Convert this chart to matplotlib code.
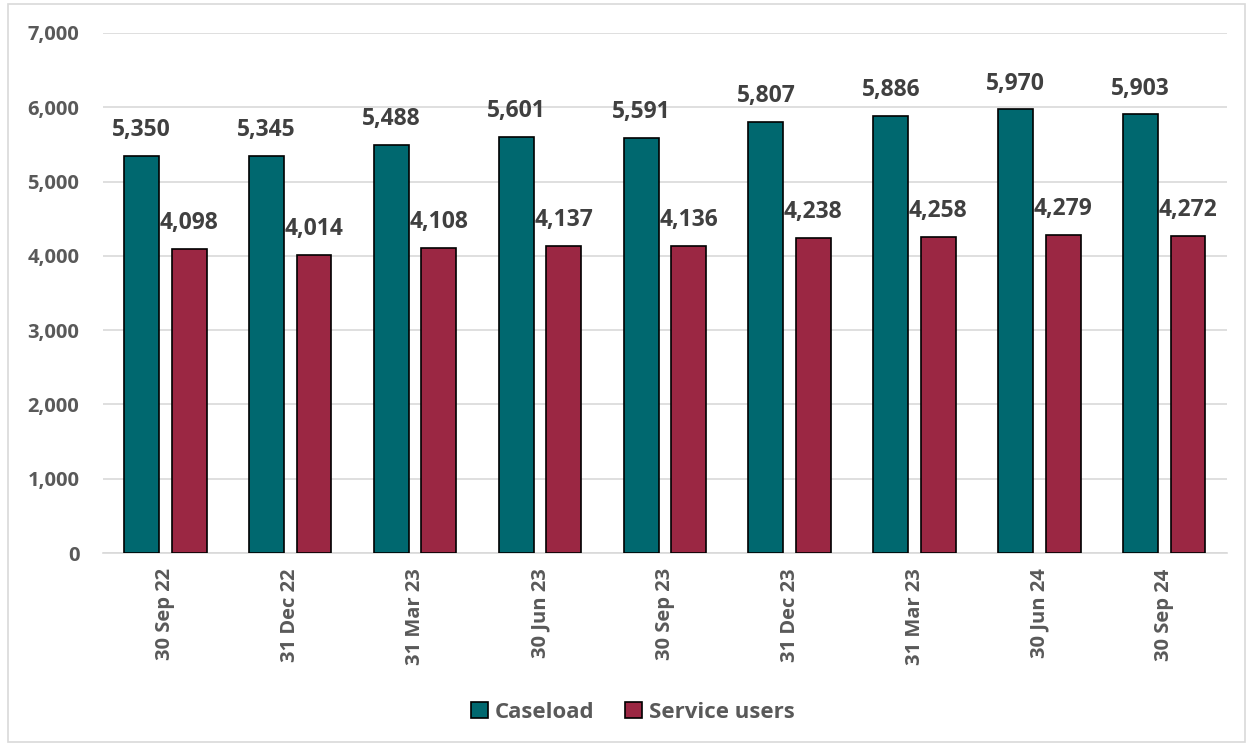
import numpy as np
import matplotlib.pyplot as plt
from matplotlib.patches import Rectangle

plt.rcParams['font.family'] = ['Open Sans', 'DejaVu Sans']
plt.rcParams['font.weight'] = 'bold'

dates = ["30 Sep 22", "31 Dec 22", "31 Mar 23", "30 Jun 23", "30 Sep 23",
         "31 Dec 23", "31 Mar 23", "30 Jun 24", "30 Sep 24"]
caseload = [5350, 5345, 5488, 5601, 5591, 5807, 5886, 5970, 5903]
service_users = [4098, 4014, 4108, 4137, 4136, 4238, 4258, 4279, 4272]

teal = "#00686F"
maroon = "#9B2743"
grey = "#595959"

fig = plt.figure(figsize=(12.53, 7.46), dpi=100)
ax = fig.add_axes([0.0822, 0.2587, 0.8968, 0.6971])
fig.patches.append(Rectangle((0.006, 0.005), 0.988, 0.99, transform=fig.transFigure,
                             fill=False, edgecolor="#D9D9D9", linewidth=1.2))

x = np.arange(len(dates))
w = 0.28
b1 = ax.bar(x - 0.19, caseload, w, color=teal, edgecolor="black", linewidth=1.2,
            label="Caseload", zorder=3)
b2 = ax.bar(x + 0.19, service_users, w, color=maroon, edgecolor="black", linewidth=1.2,
            label="Service users", zorder=3)

for bars in (b1, b2):
    ax.bar_label(bars, labels=[f"{v:,}" for v in bars.datavalues], padding=10,
                 fontsize=16.5, color="#404040", fontweight="bold")

ax.set_xlim(-0.5, len(dates) - 0.5)
ax.set_ylim(0, 7000)
ax.set_yticks(range(0, 7001, 1000))
ax.yaxis.set_major_formatter(plt.FuncFormatter(lambda v, p: f"{int(v):,}"))
ax.grid(axis="y", color="#D9D9D9", linewidth=1.2, zorder=0)
ax.set_xticks(x)
ax.set_xticklabels(dates, rotation=90)
ax.tick_params(axis="both", length=0, labelsize=14.5, labelcolor=grey, pad=11)
ax.tick_params(axis="y", pad=17)
for s in ["top", "right", "left"]:
    ax.spines[s].set_visible(False)
ax.spines["bottom"].set_color("#D9D9D9")
ax.spines["bottom"].set_linewidth(1.2)

handles, labels = ax.get_legend_handles_labels()
leg = fig.legend(handles, labels, loc="center", bbox_to_anchor=(0.505, 0.045), ncol=2,
                 frameon=False, fontsize=16, handlelength=0.75, handleheight=0.75,
                 handletextpad=0.3, columnspacing=1.4)
for t in leg.get_texts():
    t.set_color(grey)

fig.savefig("out.png", dpi=100)
